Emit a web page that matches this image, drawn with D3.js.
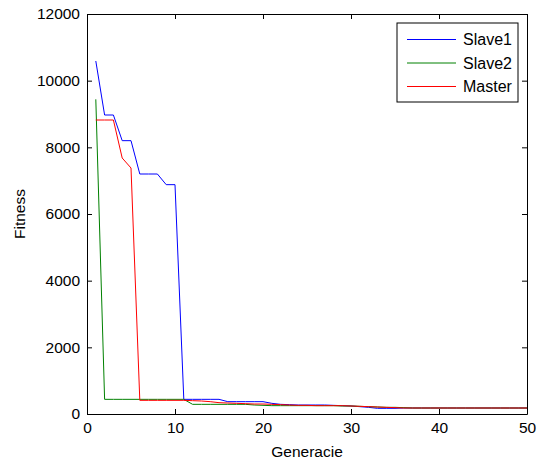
<!DOCTYPE html>
<html>
<head>
<meta charset="utf-8">
<script src="https://cdn.jsdelivr.net/npm/d3@7"></script>
<style>
  body { margin: 0; background: #fff; }
  text { font-family: "Liberation Sans", Arial, sans-serif; }
</style>
</head>
<body>
<div id="chart"></div>
<script>
// generations 1..50
const generations = d3.range(1, 51);

const slave1 = [10590, 8970, 8970, 8200, 8200, 7200, 7200, 7200, 6880, 6880,
  440, 440, 440, 440, 440, 370, 370, 370, 370, 370,
  320, 290, 280, 270, 270, 270, 270, 260, 250, 240,
  220, 200, 170, 170, 170, 180, 180, 180, 180, 180,
  180, 180, 180, 180, 180, 180, 180, 180, 180, 180];

const slave2 = [9440, 440, 440, 440, 440, 440, 440, 440, 440, 440,
  440, 290, 290, 290, 290, 290, 290, 290, 270, 260,
  250, 250, 250, 250, 250, 250, 250, 250, 240, 240,
  230, 220, 210, 200, 200, 190, 180, 180, 180, 180,
  180, 180, 180, 180, 180, 180, 180, 180, 180, 180];

const master = [8820, 8820, 8820, 7680, 7380, 410, 410, 410, 410, 410,
  410, 400, 390, 370, 340, 330, 320, 310, 300, 300,
  290, 280, 270, 260, 260, 250, 250, 250, 250, 240,
  230, 220, 210, 200, 190, 180, 180, 180, 180, 180,
  180, 180, 180, 180, 180, 180, 180, 180, 180, 180];

const seriesNames = ['Slave1', 'Slave2', 'Master'];
const seriesColors = ['#0000ff', '#008000', '#ff0000'];
const xTicks = [0, 10, 20, 30, 40, 50];
const yTicks = [0, 2000, 4000, 6000, 8000, 10000, 12000];

const width = 539, height = 466;
const margin = { top: 14, right: 12, bottom: 52, left: 87 };
const w = width - margin.left - margin.right;
const h = height - margin.top - margin.bottom;

const svg = d3.select('#chart').append('svg')
  .attr('width', width)
  .attr('height', height);

const g = svg.append('g')
  .attr('transform', 'translate(' + margin.left + ',' + margin.top + ')');

const x = d3.scaleLinear().domain([0, 50]).range([0, w]);
const y = d3.scaleLinear().domain([0, 12000]).range([h, 0]);

const series = [slave1, slave2, master];

const line = d3.line()
  .x((d, i) => x(generations[i]))
  .y(d => y(d));

g.selectAll('.series')
  .data(series)
  .enter()
  .append('path')
  .attr('class', 'series')
  .attr('fill', 'none')
  .attr('stroke', (d, i) => seriesColors[i])
  .attr('stroke-width', 1)
  .attr('d', line);

// axes, ticks pointing inward (matlab style)
const fontSize = '15.5px';
const fmt = d3.format('d');
g.append('g')
  .attr('transform', 'translate(0,' + h + ')')
  .call(d3.axisBottom(x).tickValues(xTicks).tickFormat(fmt)
    .tickSize(-5).tickSizeOuter(0).tickPadding(8));
g.append('g')
  .call(d3.axisLeft(y).tickValues(yTicks).tickFormat(fmt)
    .tickSize(-5).tickSizeOuter(0).tickPadding(7));
g.append('g')
  .call(d3.axisTop(x).tickValues(xTicks).tickSize(-5).tickSizeOuter(0).tickFormat(''));
g.append('g')
  .attr('transform', 'translate(' + w + ',0)')
  .call(d3.axisRight(y).tickValues(yTicks).tickSize(-5).tickSizeOuter(0).tickFormat(''));

g.selectAll('.domain').attr('stroke', '#000').attr('stroke-width', 1);
g.selectAll('.tick line').attr('stroke', '#000');
g.selectAll('.tick text')
  .attr('fill', '#000')
  .style('font-size', fontSize)
  .style('font-family', '"Liberation Sans", Arial, sans-serif');

// axis titles
svg.append('text')
  .attr('x', margin.left + w / 2)
  .attr('y', 457)
  .attr('text-anchor', 'middle')
  .style('font-size', fontSize)
  .text('Generacie');

svg.append('text')
  .attr('transform', 'translate(25,' + (margin.top + h / 2) + ') rotate(-90)')
  .attr('text-anchor', 'middle')
  .style('font-size', fontSize)
  .text('Fitness');

// legend
const legend = svg.append('g')
  .attr('transform', 'translate(397,23)');
legend.append('rect')
  .attr('width', 121)
  .attr('height', 79)
  .attr('fill', '#fff')
  .attr('stroke', '#000');
const rows = legend.selectAll('.legend')
  .data(seriesNames)
  .enter()
  .append('g')
  .attr('class', 'legend')
  .attr('transform', (d, i) => 'translate(0,' + (16.5 + i * 23.5) + ')');
rows.append('line')
  .attr('x1', 10).attr('x2', 59)
  .attr('stroke', (d, i) => seriesColors[i]);
rows.append('text')
  .attr('x', 66)
  .attr('y', 5.5)
  .style('font-size', '16px')
  .text(d => d);
</script>
</body>
</html>
